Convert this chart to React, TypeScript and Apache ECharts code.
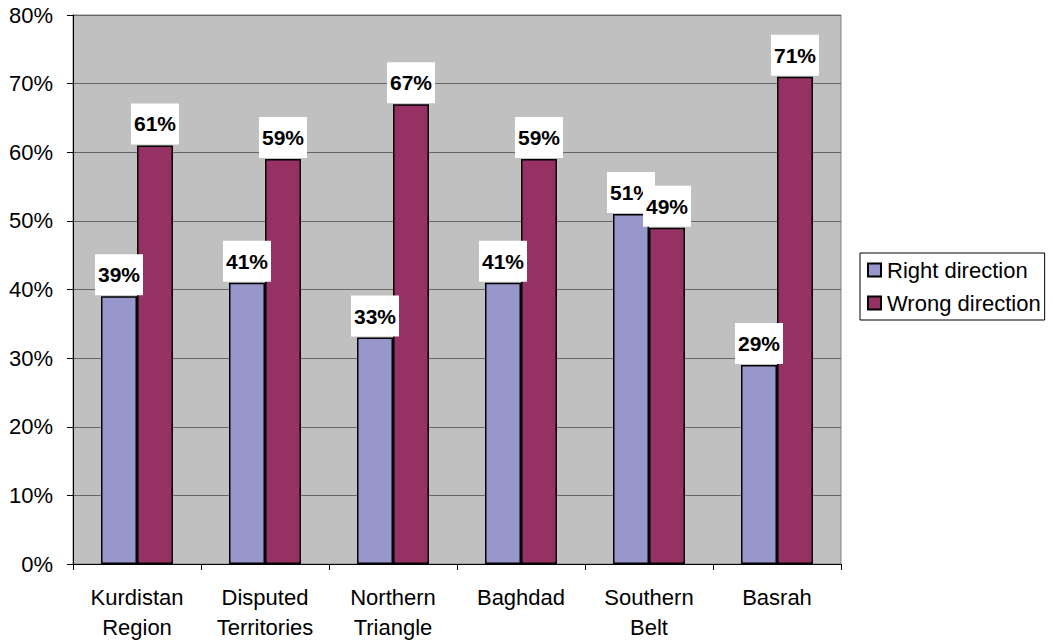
import React, { useEffect, useRef } from "react";
import * as echarts from "echarts";

const categories = [
  "Kurdistan\nRegion",
  "Disputed\nTerritories",
  "Northern\nTriangle",
  "Baghdad",
  "Southern\nBelt",
  "Basrah",
];
const rightDirection = [39, 41, 33, 41, 51, 29];
const wrongDirection = [61, 59, 67, 59, 49, 71];
const seriesNames = ["Right direction", "Wrong direction"];

const FONT = "'Liberation Sans', Arial, sans-serif";

export default function App() {
  const ref = useRef<HTMLDivElement>(null);
  useEffect(() => {
    if (!ref.current) return;
    const chart = echarts.init(ref.current, null, { renderer: "svg" });
    const label = {
      show: true,
      position: "top",
      distance: 1,
      formatter: "{c}%",
      fontFamily: FONT,
      fontSize: 21,
      fontWeight: "bold",
      color: "#000",
      backgroundColor: "#fff",
      padding: [10, 3, 10, 3],
      lineHeight: 21,
    };
    chart.setOption({
      animation: false,
      backgroundColor: "#fff",
      textStyle: { fontFamily: FONT },
      grid: {
        left: 73,
        top: 15,
        width: 768,
        height: 552,
        show: true,
        backgroundColor: "#C0C0C0",
        borderColor: "#808080",
        borderWidth: 1,
      },
      legend: {
        orient: "vertical",
        left: 860,
        top: 253,
        padding: [6, 4, 6, 7],
        itemGap: 11,
        itemWidth: 13,
        itemHeight: 13,
        borderColor: "#000",
        borderWidth: 1,
        backgroundColor: "#fff",
        icon: "rect",
        textStyle: { fontFamily: FONT, fontSize: 22, color: "#000", padding: [0, 0, 0, 1] },
        data: seriesNames,
      },
      xAxis: {
        type: "category",
        data: categories,
        axisLine: { show: true, lineStyle: { color: "#000", width: 1 } },
        axisTick: { show: true, length: 6, alignWithLabel: false, lineStyle: { color: "#000" } },
        axisLabel: {
          fontFamily: FONT,
          fontSize: 22,
          color: "#000",
          margin: 18,
          lineHeight: 30,
          interval: 0,
        },
        splitLine: { show: false },
      },
      yAxis: {
        type: "value",
        min: 0,
        max: 80,
        interval: 10,
        axisLine: { show: true, lineStyle: { color: "#000", width: 1 } },
        axisTick: { show: true, length: 6, lineStyle: { color: "#000" } },
        axisLabel: {
          formatter: "{value}%",
          fontFamily: FONT,
          fontSize: 22,
          color: "#000",
          margin: 20,
        },
        splitLine: { show: true, lineStyle: { color: "#666", width: 1 } },
      },
      series: [
        {
          name: seriesNames[0],
          type: "bar",
          data: rightDirection,
          barWidth: 36,
          barGap: "0%",
          itemStyle: { color: "#9797CB", borderColor: "#000", borderWidth: 1.5 },
          label,
        },
        {
          name: seriesNames[1],
          type: "bar",
          data: wrongDirection,
          barWidth: 36,
          barGap: "0%",
          itemStyle: { color: "#953163", borderColor: "#000", borderWidth: 1.5 },
          label,
        },
      ],
    });
    return () => chart.dispose();
  }, []);
  return (
    <div
      ref={ref}
      style={{ position: "fixed", left: 0, top: 0, width: 1053, height: 642 }}
    />
  );
}
